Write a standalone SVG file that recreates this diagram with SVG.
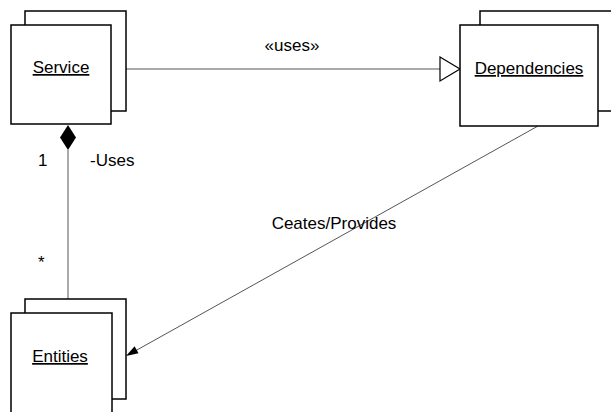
<svg xmlns="http://www.w3.org/2000/svg" width="611" height="412" viewBox="0 0 611 412">
  <style>
    .box { fill: #ffffff; stroke: #000000; stroke-width: 1.5; }
    .name { font-family: "Liberation Sans", Arial, sans-serif; font-size: 17px; text-decoration: underline; text-anchor: middle; fill: #000; }
    .label { font-family: "Liberation Sans", Arial, sans-serif; font-size: 17px; fill: #000; }
    .conn { stroke: #555555; stroke-width: 1; fill: none; }
  </style>
  <rect width="611" height="412" fill="#ffffff"/>

  <!-- connectors -->
  <g id="connectors">
    <!-- Service uses Dependencies: generalization-style hollow head -->
    <line class="conn" x1="126" y1="69" x2="440" y2="69"/>
    <polygon points="440,57 460,69 440,81" fill="#ffffff" stroke="#000000" stroke-width="1.2"/>
    <text class="label" x="292" y="51" text-anchor="middle">«uses»</text>

    <!-- Service composed of Entities -->
    <line class="conn" x1="68" y1="150" x2="68" y2="299"/>
    <polygon points="68,125 76,137.5 68,150 60,137.5" fill="#000000"/>
    <text class="label" x="38" y="166">1</text>
    <text class="label" x="90" y="166">-Uses</text>
    <text class="label" x="38" y="268">*</text>

    <!-- Dependencies creates/provides Entities -->
    <line class="conn" x1="538" y1="126" x2="136" y2="350.5"/>
    <polygon points="126,356 134.6,346.3 138.5,353.3" fill="#000000"/>
    <text class="label" x="334" y="229" text-anchor="middle">Ceates/Provides</text>
  </g>

  <g id="service">
    <rect class="box" x="25" y="11" width="101" height="100"/>
    <rect class="box" x="11" y="25" width="100" height="99"/>
    <text class="name" x="61" y="73">Service</text>
  </g>

  <g id="dependencies">
    <rect class="box" x="480" y="11" width="140" height="100"/>
    <rect class="box" x="460" y="25" width="138" height="101"/>
    <text class="name" x="529" y="74">Dependencies</text>
  </g>

  <g id="entities">
    <rect class="box" x="25" y="299" width="101" height="100"/>
    <rect class="box" x="11" y="313" width="101" height="110"/>
    <text class="name" x="60" y="362">Entities</text>
  </g>
</svg>
